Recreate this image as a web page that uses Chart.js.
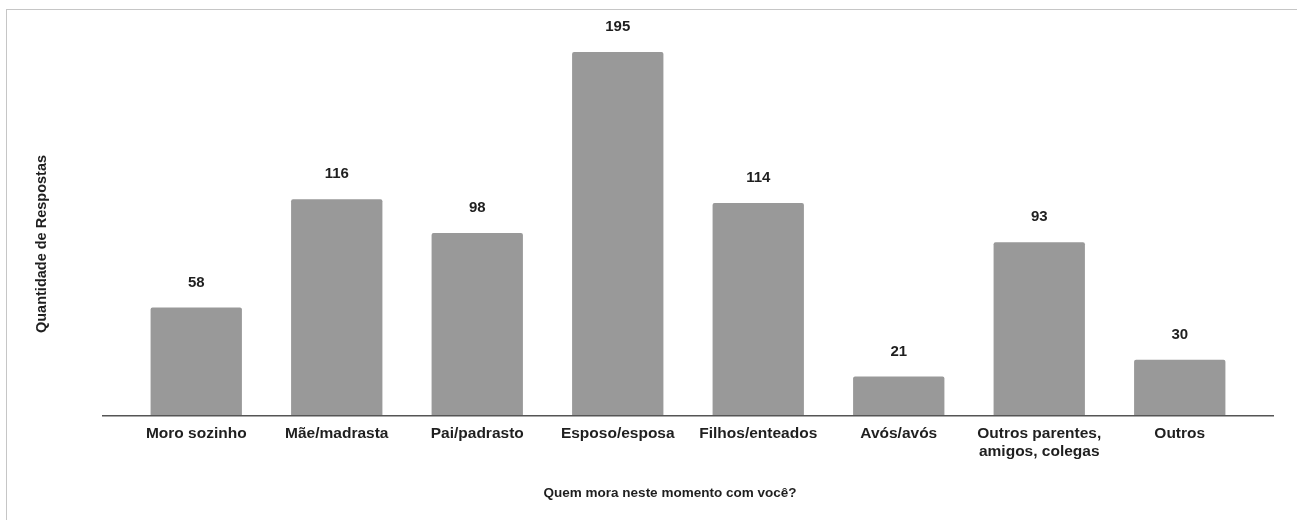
<!DOCTYPE html>
<html>
<head>
<meta charset="utf-8">
<script src="https://cdn.jsdelivr.net/npm/chart.js@4/dist/chart.umd.min.js"></script>
<style>
  html, body { margin: 0; padding: 0; background: #fff; overflow: hidden; }
  #wrap { position: relative; width: 1297px; height: 520px; }
  #frame { position: absolute; left: 6px; top: 9px; width: 1400px; height: 600px;
           border-top: 1px solid #c6c6c6; border-left: 1px solid #c6c6c6; pointer-events: none; }
  canvas { position: absolute; left: 0; top: 0; }
</style>
</head>
<body>
<div id="wrap">
  <canvas id="c" width="1297" height="520"></canvas>
  <div id="frame"></div>
</div>
<script>
const categories = [
  "Moro sozinho",
  "Mãe/madrasta",
  "Pai/padrasto",
  "Esposo/esposa",
  "Filhos/enteados",
  "Avós/avós",
  ["Outros parentes,", "amigos, colegas"],
  "Outros"
];
const respostas = [58, 116, 98, 195, 114, 21, 93, 30];
const yTitle = "Quantidade de Respostas";
const xTitle = "Quem mora neste momento com você?";

const FONT = "'Liberation Sans', Arial, sans-serif";

const extras = {
  id: 'extras',
  afterDatasetsDraw(chart) {
    const ctx = chart.ctx;
    const area = chart.chartArea;
    const y0 = chart.scales.y.getPixelForValue(0);
    ctx.save();
    // baseline
    ctx.strokeStyle = '#555555';
    ctx.lineWidth = 1.5;
    ctx.beginPath();
    ctx.moveTo(area.left - 24, y0);
    ctx.lineTo(area.right + 24, y0);
    ctx.stroke();
    // value labels
    ctx.fillStyle = '#1f1f1f';
    ctx.font = "bold 15px " + FONT;
    ctx.textAlign = 'center';
    ctx.textBaseline = 'middle';
    const meta = chart.getDatasetMeta(0);
    meta.data.forEach((bar, i) => {
      ctx.fillText(String(chart.data.datasets[0].data[i]), bar.x, bar.y - 25);
    });
    // x title
    ctx.font = "bold 13.5px " + FONT;
    ctx.fillText(xTitle, (area.left + area.right) / 2 - 18, 493);
    // y title
    ctx.translate(42, 244);
    ctx.rotate(-Math.PI / 2);
    ctx.font = "bold 14.5px " + FONT;
    ctx.fillText(yTitle, 0, 0);
    ctx.restore();
  }
};

new Chart(document.getElementById('c'), {
  type: 'bar',
  data: {
    labels: categories,
    datasets: [{
      data: respostas,
      backgroundColor: '#999999',
      borderRadius: 2,
      borderSkipped: 'bottom',
      categoryPercentage: 1.0,
      barPercentage: 0.65
    }]
  },
  options: {
    responsive: false,
    animation: false,
    devicePixelRatio: 1,
    layout: { padding: { left: 126, right: 47, top: 24, bottom: 50 } },
    plugins: { legend: { display: false }, tooltip: { enabled: false } },
    scales: {
      x: {
        grid: { display: false, drawTicks: false },
        border: { display: false },
        ticks: {
          color: '#1f1f1f',
          font: { family: FONT, size: 15.5, weight: 'bold', lineHeight: 1.17 },
          padding: 9,
          maxRotation: 0,
          autoSkip: false
        }
      },
      y: {
        display: false,
        min: 0,
        max: 210
      }
    }
  },
  plugins: [extras]
});
</script>
</body>
</html>
